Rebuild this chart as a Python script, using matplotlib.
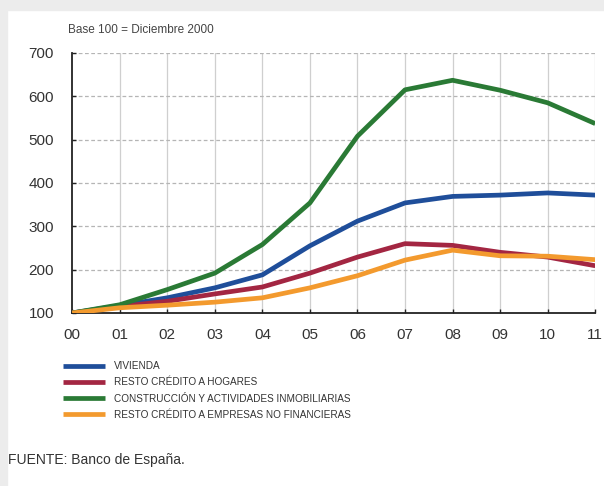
import matplotlib
matplotlib.use("Agg")
import matplotlib.pyplot as plt
from matplotlib.patches import Rectangle

plt.rcParams["font.family"] = ["Liberation Sans", "DejaVu Sans"]

# ── Series (index, base 100 = December 2000) ──────────────────────────────────
years = ["00", "01", "02", "03", "04", "05", "06", "07", "08", "09", "10", "11"]
vivienda = [100, 117, 135, 158, 188, 255, 312, 354, 369, 372, 377, 372]
resto_hogares = [100, 115, 127, 144, 160, 192, 229, 260, 256, 240, 229, 209]
construccion = [100, 119, 154, 192, 258, 354, 508, 615, 637, 614, 585, 537]
resto_empresas = [100, 112, 118, 125, 135, 158, 186, 222, 245, 232, 231, 223]

labels = ["VIVIENDA", "RESTO CRÉDITO A HOGARES",
          "CONSTRUCCIÓN Y ACTIVIDADES INMOBILIARIAS",
          "RESTO CRÉDITO A EMPRESAS NO FINANCIERAS"]
colors = ["#1f4e9a", "#a32642", "#2a7a35", "#f39a2e"]
series = [vivienda, resto_hogares, construccion, resto_empresas]

fig = plt.figure(figsize=(6.04, 4.86), dpi=100, facecolor="white")

# light grey frame strips around the panel
fig.patches.append(Rectangle((0, 0.979), 1, 0.021, transform=fig.transFigure,
                             color="#ececec", zorder=0))
fig.patches.append(Rectangle((0, 0), 0.012, 1, transform=fig.transFigure,
                             color="#ececec", zorder=0))

ax = fig.add_axes([0.1195, 0.356, 0.866, 0.535])
x = list(range(len(years)))
handles = []
for ys, col, lab in zip(series, colors, labels):
    h, = ax.plot(x, ys, color=col, lw=3.4, solid_capstyle="butt",
                 solid_joinstyle="round", label=lab, zorder=3)
    handles.append(h)

ax.set_xlim(0, 11)
ax.set_ylim(100, 700)
ax.set_xticks(x)
ax.set_xticklabels(years)
ax.set_yticks(range(100, 701, 100))

# vertical grid solid, horizontal grid dashed
for xi in x[1:]:
    ax.axvline(xi, color="#cfcfcf", lw=0.9, zorder=1)
for yi in range(200, 701, 100):
    ax.axhline(yi, color="#b5b5b5", lw=0.9, ls=(0, (3, 2)), zorder=1)

ax.spines[["top", "right"]].set_visible(False)
for s in ("left", "bottom"):
    ax.spines[s].set_linewidth(1.3)
    ax.spines[s].set_color("#222222")
ax.tick_params(direction="in", length=3, width=1, colors="#222222",
               labelsize=11, labelcolor="#333333")
ax.tick_params(axis="x", pad=11)
ax.tick_params(axis="y", pad=13)

fig.text(0.113, 0.938, "Base 100 = Diciembre 2000", fontsize=8.5,
         color="#444444", va="center")

fig.legend(handles=handles, labels=labels, loc="upper left",
           bbox_to_anchor=(0.097, 0.265), frameon=False, handlelength=4.2,
           handletextpad=0.9, labelspacing=0.62, borderaxespad=0,
           prop={"size": 7.2}, labelcolor="#333333")

fig.text(0.013, 0.053, "FUENTE: Banco de España.", fontsize=10,
         color="#333333", va="center")

fig.savefig("out.png", dpi=100, facecolor="white")
